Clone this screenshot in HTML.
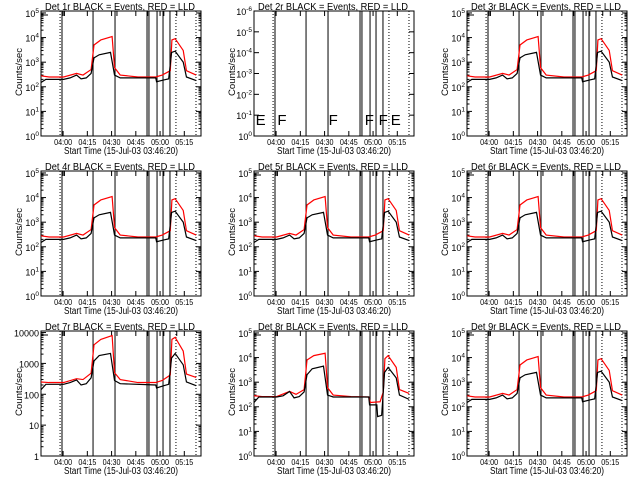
<!DOCTYPE html>
<html><head><meta charset="utf-8"><style>
html,body{margin:0;padding:0;background:#fff;}
svg{display:block;font-family:"Liberation Sans",sans-serif;}
</style></head><body>
<svg id="c" width="640" height="480" viewBox="0 0 640 480"></svg>
<script>
// time in minutes since 03:46:20
const times = [0,3,14,18,22,24.8,28,31,32.8,36,43,45.5,49,71,71.5,76,79,80.8,83,88,90,96];
const blackA = [150,200,200,230,300,210,230,350,1500,2000,2500,300,230,230,160,190,210,2500,2800,1000,250,180];
const redTimes = [0,5,14,22,26,31,32.8,37,44,45.5,49,60,71,75,80,81,83,88,90,96];
const redA = [280,250,250,350,300,500,5000,8000,11000,600,300,250,250,300,450,8000,9000,3000,450,300];
const times8 = [0,3,14,18,22,24.8,28,31,32.8,36,43,45.5,49,71,71.5,76,76.5,79,80.8,83,88,90,96];
const black8 = [150,250,250,280,420,230,260,400,2000,3500,4500,300,250,250,120,120,40,45,2500,4000,1500,300,200];
const redTimes8 = [0,5,14,22,26,31,32.8,37,44,45.5,49,60,71,72,78,80,81,83,88,90,96];
const red8 = [280,260,260,420,320,500,8000,12000,15000,600,300,260,250,150,160,400,9000,12000,4000,500,350];
const times7 = [0,3,14,18,22,24.8,28,31,32.8,36,43,45.5,49,71,71.5,76,79,80.8,83,88,90,96];
const black7 = [140,210,210,240,290,200,220,340,1200,1800,2100,280,220,200,160,190,210,1500,2100,900,250,190];
const red7 = [250,240,240,320,300,480,4000,6000,8000,500,300,240,240,280,420,6000,7000,2500,450,350];
const solidLines = [13, 32.2, 45.8, 65.6, 66.8, 71.8, 75.5, 79.8];
const dottedLines = [11.8, 83.5, 95.9];
const xTickMin = [13.67, 28.67, 43.67, 58.67, 73.67, 88.67];
const xTickLabels = ["04:00","04:15","04:30","04:45","05:00","05:15"];
const panelTitles = ["Det 1r","Det 2r","Det 3r","Det 4r","Det 5r","Det 6r","Det 7r","Det 8r","Det 9r"];
const markLetters = ["E","F","F","F","F","E"];
const markMin = [1.0, 14.5, 46.2, 68.5, 77.1, 84.6];

const NS="http://www.w3.org/2000/svg";
const svg=document.getElementById('c');
function mk(tag,attrs,parent){const e=document.createElementNS(NS,tag);for(const k in attrs)e.setAttribute(k,attrs[k]);(parent||svg).appendChild(e);return e;}

for(let p=0;p<9;p++){
  const col=p%3,row=Math.floor(p/3);
  const ox=col*213, oy=row*160;
  const L=ox+41,R=ox+201,T=oy+11,B=oy+136;
  const g=mk('g',{});
  
  
  const xs=m=>L+m*(R-L)/99;
  let lmax=5.08, ys;
  if(p===6){lmax=4.05;}
  ys=v=>B-Math.log10(v)/lmax*(B-T);
  const fr=mk('rect',{x:L,y:T,width:R-L,height:B-T,fill:'none',stroke:'#000','stroke-width':1},g);
  
  
  const tt=mk('text',{x:ox+45,y:oy+10,'font-size':10,textLength:150,lengthAdjust:'spacingAndGlyphs',fill:'#000'},g);
  tt.textContent=panelTitles[p]+" BLACK = Events, RED = LLD";
  
  
  const xt=mk('text',{x:ox+64,y:oy+154,'font-size':10,textLength:114,lengthAdjust:'spacingAndGlyphs',fill:'#000'},g);
  xt.textContent="Start Time (15-Jul-03 03:46:20)";
  
  
  const yt=mk('text',{x:0,y:0,'font-size':9.5,'text-anchor':'middle',textLength:48,lengthAdjust:'spacingAndGlyphs',fill:'#000',transform:`translate(${ox+22},${oy+72}) rotate(-90)`},g);
  yt.textContent="Counts/sec";
  
  
  for(let i=0;i<xTickMin.length;i++){
    const x=xs(xTickMin[i]);
    mk('line',{x1:x,y1:B,x2:x,y2:B-5,stroke:'#000'},g);
    mk('line',{x1:x,y1:T,x2:x,y2:T+5,stroke:'#000'},g);
    const tl=mk('text',{x:x-9,y:B+9,'font-size':8.5,textLength:18,lengthAdjust:'spacingAndGlyphs',fill:'#000'},g);
    tl.textContent=xTickLabels[i];
    
    
  }
  if(p===1){
    const labs=["-6","-5","-4","-3","-2","-1","0"];
    for(let i=0;i<7;i++){
      const y=T+i*(B-T)/6;
      mk('line',{x1:L,y1:y,x2:L+5,y2:y,stroke:'#000'},g);
      mk('line',{x1:R,y1:y,x2:R-5,y2:y,stroke:'#000'},g);
      const tl=mk('text',{x:L-2,y:y+4,'font-size':9,'text-anchor':'end',fill:'#000'},g);
      tl.innerHTML='10<tspan dy="-4" font-size="6.5">'+labs[i]+'</tspan>';
      
      
    }
  } else {
    const nd=p===6?4:5;
    for(let d=0;d<=nd;d++){
      const y=ys(Math.pow(10,d));
      mk('line',{x1:L,y1:y,x2:L+5,y2:y,stroke:'#000'},g);
      mk('line',{x1:R,y1:y,x2:R-5,y2:y,stroke:'#000'},g);
      if(d<nd){for(let k=2;k<10;k++){const yy=ys(k*Math.pow(10,d));if(yy<T)break;
        mk('line',{x1:L,y1:yy,x2:L+2.5,y2:yy,stroke:'#000'},g);
        mk('line',{x1:R,y1:yy,x2:R-2.5,y2:yy,stroke:'#000'},g);}}
      const tl=mk('text',{x:L-2,y:y+4,'font-size':9,'text-anchor':'end',fill:'#000'},g);
      if(p===6) tl.textContent=String(Math.pow(10,d));
      else tl.innerHTML='10<tspan dy="-4" font-size="6.5">'+d+'</tspan>';
      
      
    }
  }
  solidLines.forEach(m=>{const l=mk('line',{x1:xs(m),y1:T,x2:xs(m),y2:B,stroke:'#000'},g);
    });
  dottedLines.forEach(m=>{const l=mk('line',{x1:xs(m),y1:T,x2:xs(m),y2:B,stroke:'#000','stroke-dasharray':'1,2'},g);
    });
  if(p===1){
    markLetters.forEach((c,i)=>{const t=mk('text',{x:xs(markMin[i]),y:B-11,'font-size':15,fill:'#000'},g);
      t.textContent=c;});
    continue;
  }
  mk('polyline',{points:`${L},${T+4} ${L+7},${T+4}`,fill:'none',stroke:'#000'},g);
  [14.5,47,66,76,84].forEach(m=>mk('polyline',{points:`${xs(m)},${T+5} ${xs(m)},${T} ${xs(m)+3},${T}`,fill:'none',stroke:'#000'},g));
  let tb=times,bv=blackA,tr=redTimes,rv=redA;
  if(p===7){tb=times8;bv=black8;tr=redTimes8;rv=red8;}
  if(p===6){tb=times7;bv=black7;rv=red7;}
  const rl=mk('polyline',{points:tr.map((t,i)=>xs(t)+','+ys(rv[i])).join(' '),fill:'none',stroke:'#ff0000','stroke-width':1.2},g);
  
  const bl=mk('polyline',{points:tb.map((t,i)=>xs(t)+','+ys(bv[i])).join(' '),fill:'none',stroke:'#000','stroke-width':1.2},g);
  
}
</script>
</body></html>
